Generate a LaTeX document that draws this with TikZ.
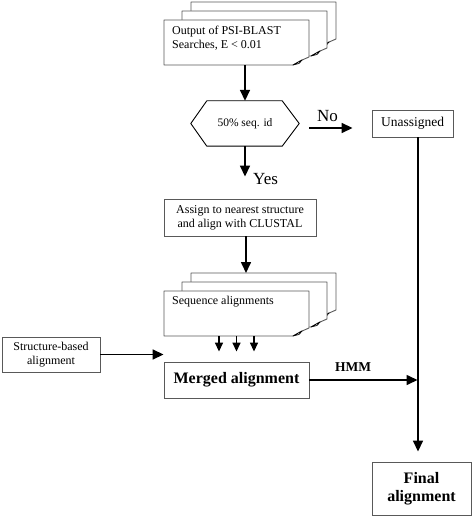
\documentclass[tikz,border=0pt]{standalone}
\usepackage{fontspec}
\setmainfont{Liberation Serif}
\usetikzlibrary{arrows.meta,calc}
\definecolor{boxgray}{gray}{0.35}
\newcommand\pagesheet[4]{%
  \filldraw[draw=boxgray,fill=white,line width=0.9pt,line join=round]
    (#1,#2) -- (#3,#2) -- (#3,#4-8) -- (#3-8,#4-4.5) -- (#3-16,#4) -- (#1,#4) -- cycle;
  \filldraw[draw=black,fill=white,line width=0.7pt,line join=round]
    (#3-16,#4) -- (#3-7,#4-5) -- (#3-10,#4-1.5) -- cycle;
}
\begin{document}
\begin{tikzpicture}[x=1pt,y=-1pt,
  box/.style={draw=boxgray,line width=0.9pt,fill=white,inner sep=0pt,align=center,
    font=\fontsize{12}{14}\selectfont},
  frame/.style={draw=none,inner sep=0pt},
  txt/.style={inner sep=0pt,align=left,font=\fontsize{12}{14}\selectfont},
  arr/.style={line width=1.6pt,-{Triangle[length=11pt,width=10pt]}},
  sarr/.style={line width=1.5pt,-{Triangle[length=9pt,width=8pt]}},
  big/.style={inner sep=0pt,font=\fontsize{17}{19}\selectfont},
]
\useasboundingbox (0,0) rectangle (474,518);

% PSI-BLAST stack
\pagesheet{191}{2}{336}{47}
\pagesheet{182}{11}{327}{56}
\pagesheet{164}{20}{309}{65}
\node[frame,minimum width=145pt,minimum height=45pt] (psi) at (236.5,42.5) {};
\node[txt,anchor=north west] (psitxt) at (172,26) {Output of PSI-BLAST\\Searches, E < 0.01};

% decision hexagon
\node[frame,minimum width=108pt,minimum height=45pt,font=\fontsize{11.5}{13}\selectfont] (hex) at (245,123.5) {50\% seq. id};
\draw[black,line width=0.9pt,line join=round]
  (hex.west) -- ($(hex.north west)+(16,0)$) -- ($(hex.north east)+(-17,0)$) -- (hex.east)
  -- ($(hex.south east)+(-17,0)$) -- ($(hex.south west)+(16,0)$) -- cycle;

\node[box,minimum width=81pt,minimum height=27pt,font=\fontsize{13.5}{15}\selectfont] (unas) at (412.5,123.5) {Unassigned};
\node[box,minimum width=152pt,minimum height=37pt] (assign) at (240,217.5) {Assign to nearest structure\\and align with CLUSTAL};

% sequence alignments stack
\pagesheet{191}{273}{336}{318}
\pagesheet{182}{282}{327}{327}
\pagesheet{164}{291}{309}{336}
\node[frame,minimum width=145pt,minimum height=45pt] (seq) at (236.5,313.5) {};
\node[txt,anchor=north west] (seqtxt) at (172,296) {Sequence alignments};
\coordinate (seqtop) at (246,273);

\node[box,minimum width=145pt,minimum height=36pt,font=\fontsize{16}{18}\selectfont\bfseries] (merged) at (236.5,380) {Merged alignment};
\node[box,minimum width=98pt,minimum height=35pt] (struct) at (51,354.5) {Structure-based\\alignment};
\node[box,minimum width=99pt,minimum height=53pt,font=\fontsize{16}{18}\selectfont\bfseries] (fin) at (421.5,488.5) {Final\\alignment};

\coordinate (trunk) at (418,0);

% connectors
\draw[arr] (psi.south -| hex.north) -- (hex.north);
\draw[arr] ($(hex.east)+(10,4.5)$) -- ($(unas.west)+(-19,4.5)$);
\node[big,anchor=base west] (nolab) at (317,122) {No};
\draw[arr,shorten >=22pt] (hex.south) -- (hex.south |- assign.north);
\node[big,anchor=base west] (yeslab) at (253,185) {Yes};
\draw[arr] (assign.south -| seqtop) -- (seqtop);
\foreach \dx in {-17.5,0,17.5}
  \draw[sarr] ($(seq.south)+(\dx,0)$) -- ($(merged.north)+(\dx,-10)$);
\draw[arr] (struct.east) -- (struct.east -| merged.west);
\draw[arr] (merged.east) -- ($(merged.east -| trunk)+(-0.5,0)$);
\node[inner sep=0pt,anchor=base,font=\fontsize{13.5}{15}\selectfont\bfseries] (hmm) at (353,371) {HMM};
\draw[arr,shorten >=10pt] (unas.south -| trunk) -- (trunk |- fin.north);
\end{tikzpicture}
\end{document}
